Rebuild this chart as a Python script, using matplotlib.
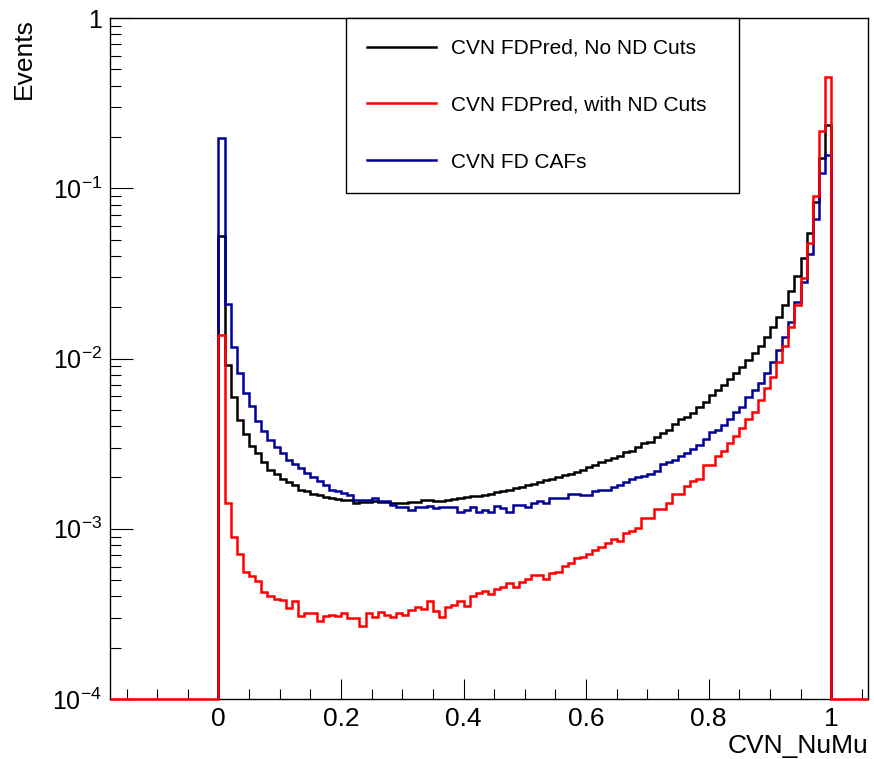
import numpy as np
import matplotlib
matplotlib.use("Agg")
import matplotlib.pyplot as plt
from matplotlib.ticker import FixedLocator, LogLocator, NullFormatter, MultipleLocator
from matplotlib.lines import Line2D

plt.rcParams['font.family'] = ['Liberation Sans', 'DejaVu Sans']
plt.rcParams['mathtext.fontset'] = 'custom'
plt.rcParams['mathtext.rm'] = 'Liberation Sans'
plt.rcParams['mathtext.default'] = 'regular'

# ---------------- data ----------------
bin_lo, bin_hi, n_bins = 0.0, 1.0, 100

labels = ["CVN FDPred, No ND Cuts", "CVN FDPred, with ND Cuts", "CVN FD CAFs"]
colors = ["#000000", "#ff0000", "#000099"]

no_nd_cuts = [
    0.0527, 0.00918, 0.00593, 0.00436, 0.0036, 0.00307, 0.00279, 0.00248, 0.00222, 0.00209,
    0.00195, 0.00187, 0.0018, 0.0017, 0.00166, 0.00161, 0.00157, 0.00153, 0.00151, 0.00149,
    0.00148, 0.00148, 0.00142, 0.00144, 0.00144, 0.00145, 0.00144, 0.00143, 0.00142, 0.00142,
    0.00142, 0.00143, 0.00143, 0.00147, 0.00148, 0.00146, 0.00145, 0.00148, 0.0015, 0.00152,
    0.00153, 0.00155, 0.00156, 0.00158, 0.00161, 0.00164, 0.00167, 0.0017, 0.00174, 0.00177,
    0.00181, 0.00184, 0.00188, 0.00193, 0.00197, 0.00202, 0.00207, 0.00211, 0.00216, 0.00221,
    0.00231, 0.00237, 0.00246, 0.00253, 0.00261, 0.00269, 0.00284, 0.00288, 0.00304, 0.00318,
    0.00325, 0.00344, 0.00364, 0.0038, 0.00412, 0.00439, 0.00455, 0.00481, 0.00522, 0.00558,
    0.00611, 0.00654, 0.00699, 0.00758, 0.00818, 0.00895, 0.0098, 0.0108, 0.0119, 0.0134,
    0.0153, 0.0176, 0.0205, 0.0250, 0.0307, 0.0391, 0.0544, 0.0834, 0.150, 0.235,
]

with_nd_cuts = [
    0.0137, 0.00141, 0.000897, 0.000706, 0.000555, 0.000526, 0.00049, 0.000425, 0.000402, 0.000388,
    0.000382, 0.000343, 0.000375, 0.000308, 0.00032, 0.00032, 0.000287, 0.000308, 0.000313, 0.000308,
    0.00032, 0.000298, 0.000298, 0.000268, 0.000319, 0.000305, 0.000326, 0.000311, 0.000305, 0.000321,
    0.000311, 0.000333, 0.000346, 0.000336, 0.000378, 0.00033, 0.000305, 0.000348, 0.000356, 0.000378,
    0.000352, 0.000403, 0.000421, 0.000431, 0.000412, 0.00044, 0.000453, 0.000482, 0.000457, 0.000489,
    0.000505, 0.000535, 0.000535, 0.000505, 0.000547, 0.00056, 0.000604, 0.000632, 0.00067, 0.00068,
    0.00071, 0.00075, 0.00078, 0.000828, 0.000867, 0.000847, 0.000947, 0.00097, 0.001014, 0.00116,
    0.00116, 0.0013, 0.0013, 0.00141, 0.00159, 0.00161, 0.00178, 0.00191, 0.00196, 0.00237,
    0.00237, 0.00269, 0.00286, 0.00318, 0.00352, 0.00393, 0.0044, 0.00483, 0.0057, 0.00668,
    0.00782, 0.00958, 0.01184, 0.01538, 0.0206, 0.0296, 0.0479, 0.09, 0.218, 0.452,
]

fd_cafs = [
    0.196, 0.021, 0.0117, 0.00826, 0.0063, 0.00524, 0.0043, 0.00374, 0.00332, 0.00302,
    0.00279, 0.00255, 0.00239, 0.00226, 0.00213, 0.002, 0.0019, 0.0018, 0.0017, 0.00166,
    0.00162, 0.00158, 0.00148, 0.00148, 0.00147, 0.00151, 0.00146, 0.00146, 0.00138, 0.00135,
    0.00135, 0.00129, 0.00135, 0.00135, 0.00136, 0.00133, 0.00135, 0.00135, 0.00134, 0.00125,
    0.00129, 0.00135, 0.00126, 0.00129, 0.00125, 0.00136, 0.00132, 0.00126, 0.00138, 0.00138,
    0.00135, 0.00141, 0.00146, 0.00141, 0.00151, 0.00151, 0.00151, 0.0016, 0.0016, 0.00158,
    0.00158, 0.00167, 0.00169, 0.0017, 0.00175, 0.00181, 0.00189, 0.00195, 0.002, 0.00204,
    0.0021, 0.00219, 0.0024, 0.00247, 0.00253, 0.00268, 0.00277, 0.00293, 0.0031, 0.00335,
    0.00372, 0.0038, 0.00407, 0.0044, 0.00483, 0.00521, 0.00592, 0.00653, 0.00721, 0.00826,
    0.0095, 0.0112, 0.01343, 0.01645, 0.0215, 0.0283, 0.0411, 0.0657, 0.1235, 0.1567,
]

x_ticks = [0, 0.2, 0.4, 0.6, 0.8, 1.0]
x_tick_labels = ["0", "0.2", "0.4", "0.6", "0.8", "1"]
y_ticks = [1e-4, 1e-3, 1e-2, 1e-1, 1]
y_tick_labels = [r"$10^{-4}$", r"$10^{-3}$", r"$10^{-2}$", r"$10^{-1}$", "1"]

# ---------------- layout ----------------
W, H = 874, 759
XMIN, XMAX = -0.177, 1.060
YMIN, YMAX = 1e-4, 1.0

fig = plt.figure(figsize=(W / 100, H / 100), dpi=100)
ax = fig.add_axes([110 / W, (H - 699) / H, (868 - 110) / W, (699 - 18) / H])
ax.set_yscale("log")
ax.set_xlim(XMIN, XMAX)
ax.set_ylim(YMIN, YMAX)

edges = np.linspace(bin_lo, bin_hi, n_bins + 1)
lw = 1.8

ax.stairs(no_nd_cuts, edges, baseline=YMIN, color=colors[0], lw=lw, zorder=3)
ax.stairs(fd_cafs, edges, baseline=YMIN, color=colors[2], lw=lw, zorder=3.1)

# red histogram drawn last, its empty range outside [0,1] lying on the axis floor
red_edges = np.concatenate([[XMIN], edges, [XMAX]])
red_vals = np.concatenate([[YMIN], with_nd_cuts, [YMIN]])
ax.stairs(red_vals, red_edges, baseline=None, color=colors[1], lw=lw,
          zorder=3.2, clip_on=False)

# ---------------- axes styling ----------------
for s in ax.spines.values():
    s.set_linewidth(1.0)
    s.set_color("black")

ax.xaxis.set_major_locator(FixedLocator(x_ticks))
ax.set_xticklabels(x_tick_labels)
ax.xaxis.set_minor_locator(MultipleLocator(0.05))
ax.yaxis.set_major_locator(FixedLocator(y_ticks))
ax.set_yticklabels(y_tick_labels)
ax.yaxis.set_minor_locator(LogLocator(base=10, subs=np.arange(2, 10)))
ax.yaxis.set_minor_formatter(NullFormatter())

ax.tick_params(axis="x", which="major", direction="in", length=14.4, width=0.8,
               labelsize=19, pad=6, top=False)
ax.tick_params(axis="x", which="minor", direction="in", length=7.2, width=0.8, top=False)
ax.tick_params(axis="y", which="major", direction="in", length=16.5, width=0.8,
               labelsize=18, pad=6, right=False)
ax.tick_params(axis="y", which="minor", direction="in", length=8.2, width=0.8, right=False)

ax.set_xlabel("CVN_NuMu", fontsize=19, loc="right", labelpad=2)
ax.set_ylabel("Events", fontsize=19, loc="top")
ax.yaxis.set_label_coords((36 - 110) / (868 - 110), 1.0)

# ---------------- legend ----------------
leg_handles = [Line2D([], [], color=c, lw=1.8) for c in colors]
x0 = (346 - 110) / (868 - 110)
x1 = (739 - 110) / (868 - 110)
y0 = (699 - 190) / (699 - 18)
leg = ax.legend(leg_handles, labels, loc="upper left",
                bbox_to_anchor=(x0, y0, x1 - x0, 1 - y0), mode="expand",
                fontsize=15, frameon=True, fancybox=False, edgecolor="black",
                framealpha=1, borderaxespad=0, borderpad=1.0, labelspacing=1.82,
                handlelength=3.3, handletextpad=0.75)
leg.get_frame().set_linewidth(1.0)
leg.set_zorder(5)

fig.savefig("out.png", dpi=100, facecolor="white")
